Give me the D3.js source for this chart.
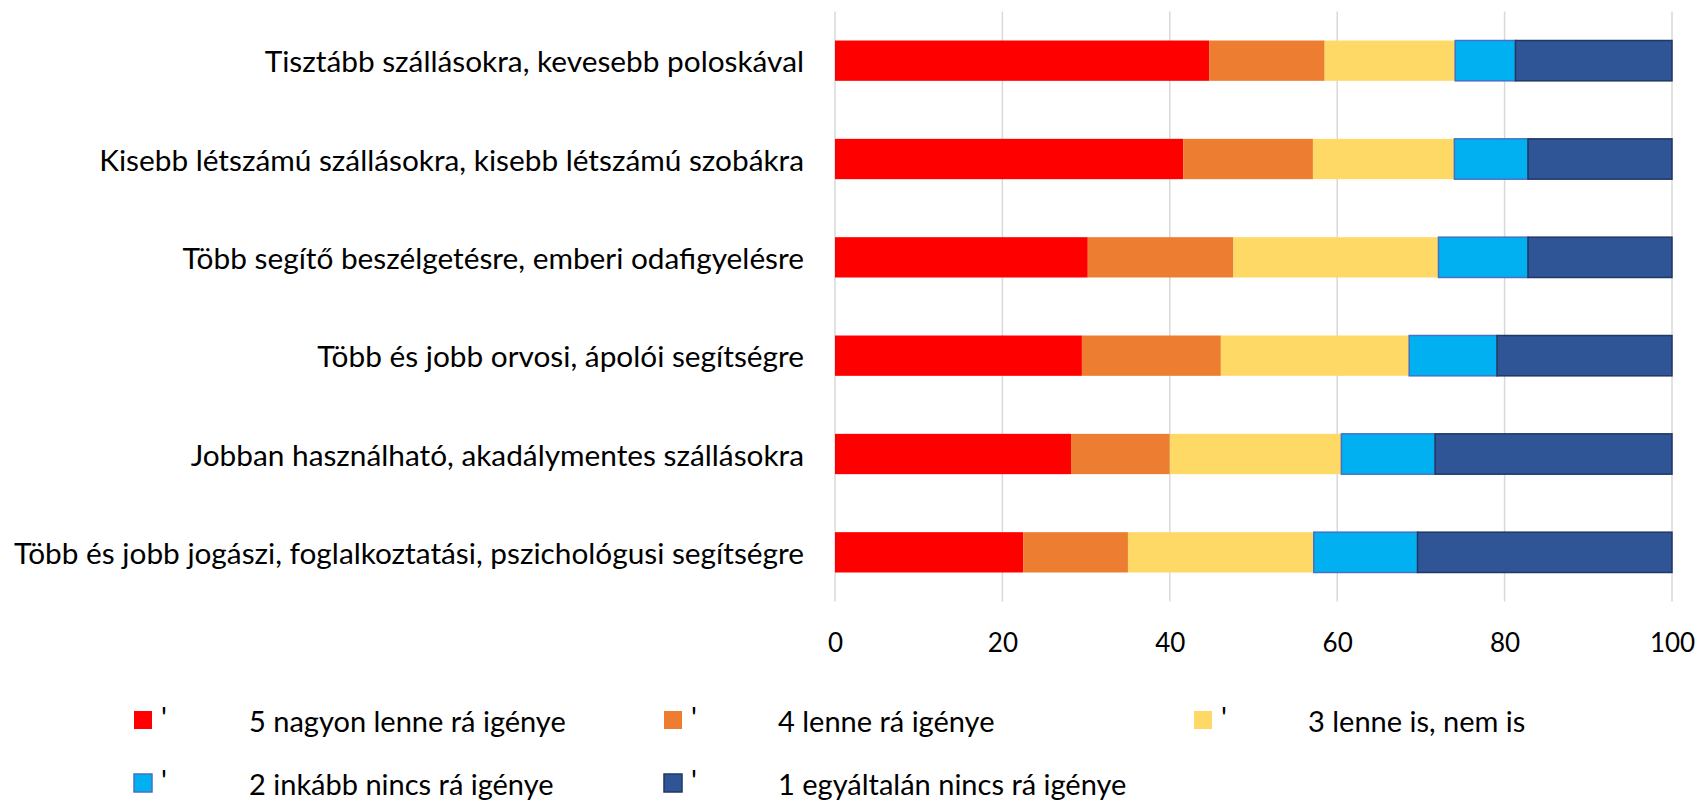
<!DOCTYPE html>
<html>
<head>
<meta charset="utf-8">
<script src="https://cdn.jsdelivr.net/npm/d3@7"></script>
<style>
  html, body { margin: 0; padding: 0; background: #fff; }
  svg { display: block; }
  text { font-family: Lato, "Open Sans", sans-serif; fill: #000; }
</style>
</head>
<body>
<svg id="chart" width="1698" height="801"></svg>
<script>
const categories = [
  "Tisztább szállásokra, kevesebb poloskával",
  "Kisebb létszámú szállásokra, kisebb létszámú szobákra",
  "Több segítő beszélgetésre, emberi odafigyelésre",
  "Több és jobb orvosi, ápolói segítségre",
  "Jobban használható, akadálymentes szállásokra",
  "Több és jobb jogászi, foglalkoztatási, pszichológusi segítségre"
];
const seriesNames = [
  "5 nagyon lenne rá igénye",
  "4 lenne rá igénye",
  "3 lenne is, nem is",
  "2 inkább nincs rá igénye",
  "1 egyáltalán nincs rá igénye"
];
const s5 = [44.7, 41.6, 30.2, 29.5, 28.2, 22.5];
const s4 = [13.8, 15.5, 17.4, 16.6, 11.8, 12.5];
const s3 = [15.6, 16.9, 24.5, 22.5, 20.5, 22.2];
const s2 = [7.2, 8.8, 10.7, 10.5, 11.2, 12.4];
const s1 = [18.7, 17.2, 17.2, 20.9, 28.3, 30.4];
const xTicks = [0, 20, 40, 60, 80, 100];

const fills = ["#FF0000", "#ED7D31", "#FFD966", "#00B0F0", "#2F5597"];
const strokes = ["none", "none", "none", "#4472C4", "#1F3864"];

const seriesValues = [s5, s4, s3, s2, s1];
const rows = categories.map((c, i) => {
  const r = { cat: c };
  seriesNames.forEach((n, j) => r[n] = seriesValues[j][i]);
  return r;
});
const stacked = d3.stack().keys(seriesNames)(rows);

const svg = d3.select("#chart");
const x = d3.scaleLinear().domain([0, 100]).range([835, 1672]);
const y = d3.scaleBand().domain(categories).range([11.5, 601.5])
  .paddingInner(0.59).paddingOuter(0.295);

// gridlines
svg.append("g").selectAll("line").data(xTicks).join("line")
  .attr("x1", d => x(d)).attr("x2", d => x(d))
  .attr("y1", 11.5).attr("y2", 601.5)
  .attr("stroke", "#D9D9D9").attr("stroke-width", 1.5);

// bars
const g = svg.append("g");
stacked.forEach((layer, j) => {
  g.append("g").selectAll("rect").data(layer).join("rect")
    .attr("x", d => x(d[0]))
    .attr("width", d => x(d[1]) - x(d[0]))
    .attr("y", d => y(d.data.cat))
    .attr("height", y.bandwidth())
    .attr("fill", fills[j])
    .attr("stroke", strokes[j])
    .attr("stroke-width", strokes[j] === "none" ? 0 : 1.5);
});

// x axis tick labels
const xAxis = d3.axisBottom(x).tickValues(xTicks).tickSize(0).tickPadding(0);
const xa = svg.append("g").attr("transform", "translate(0,601.5)").call(xAxis);
xa.select(".domain").remove();
xa.selectAll("text").attr("font-size", 26).attr("dy", null)
  .attr("y", 40).attr("dominant-baseline", "central")
  .style("font-family", "Lato, sans-serif").attr("fill", "#000");

// y category labels
const yAxis = d3.axisLeft(y).tickSize(0).tickPadding(31);
const ya = svg.append("g").attr("transform", "translate(835,0)").call(yAxis);
ya.select(".domain").remove();
ya.selectAll("text").attr("font-size", 29.8).attr("dy", null)
  .attr("dominant-baseline", "central")
  .style("font-family", "Lato, sans-serif").attr("fill", "#000");

// legend
const legendPos = [
  { sx: 134, tx: 249, cy: 720 },
  { sx: 664, tx: 778, cy: 720 },
  { sx: 1194, tx: 1308, cy: 720 },
  { sx: 134, tx: 249, cy: 783 },
  { sx: 664, tx: 778, cy: 783 }
];
const lg = svg.append("g").selectAll("g").data(seriesNames).join("g");
lg.append("rect")
  .attr("x", (d, i) => legendPos[i].sx)
  .attr("y", (d, i) => legendPos[i].cy - 9)
  .attr("width", 18).attr("height", 18)
  .attr("fill", (d, i) => fills[i])
  .attr("stroke", (d, i) => strokes[i])
  .attr("stroke-width", (d, i) => strokes[i] === "none" ? 0 : 1.5);
lg.append("text")
  .attr("x", (d, i) => legendPos[i].sx + 27)
  .attr("y", (d, i) => legendPos[i].cy - 4)
  .attr("font-size", 29).attr("dominant-baseline", "central")
  .text("'");
lg.append("text")
  .attr("x", (d, i) => legendPos[i].tx)
  .attr("y", (d, i) => legendPos[i].cy)
  .attr("font-size", 29).attr("dominant-baseline", "central")
  .text(d => d);
</script>
</body>
</html>
